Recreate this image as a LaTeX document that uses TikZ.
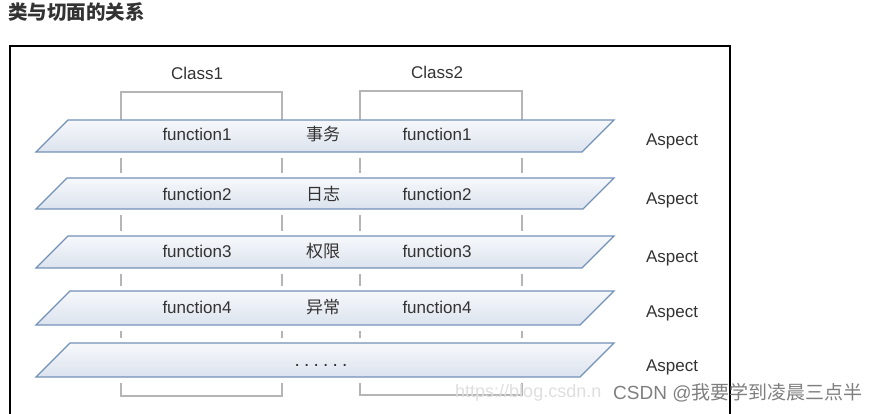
\documentclass[tikz,border=0pt]{standalone}
\usepackage{fontspec}
\setmainfont{Liberation Sans}
\newfontfamily\cjk{Noto Sans CJK SC}
\definecolor{txt}{HTML}{333333}
\definecolor{slabline}{HTML}{7391B8}
\definecolor{slabtop}{HTML}{F6F8FB}
\definecolor{slabbot}{HTML}{DCE3EE}
\definecolor{brk}{HTML}{B5B5B5}
\definecolor{wm}{HTML}{7F7F7F}
\definecolor{wmurl}{HTML}{DEDEDE}
\tikzset{
  lbl/.style={text=txt, font=\fontsize{17}{20}\selectfont, inner sep=0pt},
  cn/.style={text=txt, font=\cjk\fontsize{17}{20}\selectfont, inner sep=0pt},
  slab/.style={draw=slabline, line width=1.4pt, top color=slabtop, bottom color=slabbot},
  bracket/.style={draw=brk, line width=1.3pt},
  frame/.style={draw=black, line width=1.2pt},
}
\begin{document}
\begin{tikzpicture}[x=1pt,y=-1pt]
\useasboundingbox (0,0) rectangle (879,414);
% title
\node[anchor=west, inner sep=0pt, text=txt, font=\cjk\bfseries\fontsize{19.5}{22}\selectfont] (title) at (8,12) {类与切面的关系};
% frame
\draw[frame] (10,416) -- (10,46) -- (730,46) -- (730,416);
% class labels
\node[lbl] (class1) at (197,73) {Class1};
\node[lbl] (class2) at (437,72) {Class2};
% brackets (top and bottom)
\draw[bracket] (121,120) -- (121,92) -- (282,92) -- (282,120);
\draw[bracket] (360,120) -- (360,91) -- (522,91) -- (522,120);
\draw[bracket] (121,383) -- (121,396) -- (282,396) -- (282,383);
\draw[bracket] (360,383) -- (360,395) -- (522,395) -- (522,383);
% dashes between slabs
\foreach \ya/\yb in {158/173, 215/231, 274/286, 331/338}{
  \foreach \x in {121,282,360,522}{
    \draw[bracket] (\x,\ya) -- (\x,\yb);
  }
}
% slabs
\foreach \i/\t/\b in {1/120/152, 2/178/209, 3/236/268, 4/291/325, 5/343/377}{
  \pgfmathsetmacro{\h}{\b-\t}
  \path[slab] (36,\b) -- ({36+\h},\t) -- (614,\t) -- ({614-\h},\b) -- cycle;
}
% slab texts
\foreach \i/\c/\ty/\ay in {1/事务/134/141, 2/日志/194/200, 3/权限/251/258, 4/异常/307/313}{
  \node[lbl] (fl\i) at (197,\ty) {function\i};
  \node[cn]  (c\i)  at (323,\ty) {\c};
  \node[lbl] (fr\i) at (437,\ty) {function\i};
  \node[lbl] (a\i)  at (672,\ay) {Aspect};
}
\node[lbl, font=\fontsize{19}{20}\selectfont\addfontfeatures{LetterSpace=22}] (dots) at (321,365) {......};
\node[lbl] (a5) at (672,367) {Aspect};
% watermark
\node[anchor=west, inner sep=0pt, text=wmurl, font=\fontsize{18}{20}\selectfont] (url) at (455,393) {https://blog.csdn.n};
\node[anchor=west, inner sep=0pt, text=wm, font=\fontsize{19}{22}\selectfont] (csdn) at (613,393) {CSDN @{\cjk 我要学到凌晨三点半}};
\end{tikzpicture}
\end{document}
